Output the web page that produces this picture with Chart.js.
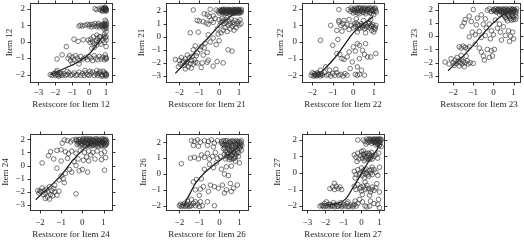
<!DOCTYPE html>
<html><head><meta charset="utf-8">
<script src="https://cdn.jsdelivr.net/npm/chart.js@4"></script>
<style>
html,body{margin:0;padding:0;background:#fff;overflow:hidden;width:524px;height:241px;position:relative}
canvas{position:absolute}
</style>
</head><body>
<script>
// ---------- DATA ----------
const itemNames = ['12','21','22','23','24','26','27'];

const xTicksWide = [-3,-2,-1,0,1];
const xTicksNarrow = [-2,-1,0,1];
const yTicks5 = [-2,-1,0,1,2];
const yTicks6 = [-3,-2,-1,0,1,2];

const item12 = [
 [0.35,2.0],[0.45,1.95],[0.6,2.0],[0.7,1.9],[0.75,2.05],[0.8,1.85],[0.85,1.95],[0.9,2.05],[0.95,1.9],[1.0,2.0],[1.0,1.85],[0.95,2.1],[0.88,1.98],[0.98,1.95],
 [0.92,1.95],[0.97,2.02],[1.02,1.92],[0.83,2.0],[0.78,1.93],
 [-0.6,0.95],[-0.5,1.0],[-0.4,0.95],[-0.25,1.0],[-0.1,1.05],[0,0.95],[0.05,1.05],[0.15,0.9],[0.2,1.05],[0.3,0.95],[0.35,1.1],[0.45,0.9],[0.5,1.0],[0.55,1.1],[0.6,0.9],[0.65,1.0],[0.75,1.05],[0.8,0.9],[0.85,1.0],[0.9,1.1],[0.95,0.95],[1.0,1.0],[1.0,1.2],[1.0,0.8],[0.95,1.3],[0.9,0.75],[1.0,0.6],[0.45,0.4],[0.6,0.3],[0.9,0.45],[1.0,0.3],
 [0.93,1.03],[0.98,0.9],[1.02,1.08],[0.88,0.95],[0.72,0.97],
 [-1.35,-0.3],[-0.9,0.15],[-0.65,0.02],[-0.35,0.12],[-0.05,0.1],[0.05,-0.05],[0.1,0.15],[0.2,0.0],[0.25,0.3],[0.3,-0.1],[0.4,0.05],[0.45,-0.2],[0.5,0.2],[0.6,0.0],[0.65,0.3],[0.7,-0.15],[0.8,0.1],[0.85,0.3],[0.9,-0.05],[1.0,0.1],[1.0,-0.3],[0.95,0.25],[0.3,-0.35],[0.15,-0.4],
 [-1.9,-1.05],[-1.6,-0.8],[-1.25,-1.0],[-1.15,-0.85],[-1.1,-1.15],[-1.0,-0.95],[-0.9,-1.1],[-0.8,-0.85],[-0.7,-1.0],[-0.6,-1.15],[-0.5,-0.9],[-0.35,-1.05],[-0.2,-0.95],[-0.1,-1.1],[0,-0.9],[0.1,-1.0],[0.2,-1.15],[0.3,-0.85],[0.4,-1.0],[0.5,-1.1],[0.6,-0.9],[0.7,-1.05],[0.8,-0.95],[0.9,-1.1],[1.0,-1.0],[0.95,-0.8],[-1.0,-1.3],[-0.6,-1.35],[0.97,-0.95],[1.02,-1.05],
 [-2.3,-2.0],[-2.2,-2.05],[-2.1,-1.95],[-2.0,-2.05],[-1.95,-1.85],[-1.9,-2.0],[-1.8,-2.1],[-1.75,-1.9],[-1.7,-2.0],[-1.6,-2.05],[-1.5,-1.95],[-1.4,-2.05],[-1.3,-2.0],[-1.2,-1.9],[-1.1,-2.05],[-1.0,-2.0],[-0.9,-1.9],[-0.8,-2.05],[-0.7,-2.0],[-0.6,-1.85],[-0.5,-2.05],[-0.4,-1.95],[-0.3,-2.05],[-0.2,-1.9],[-0.1,-2.0],[0,-2.05],[0.1,-1.95],[0.2,-1.85],[0.3,-2.05],[0.4,-1.95],[0.5,-2.05],[0.6,-1.9],[0.7,-2.0],[0.8,-2.05],[0.9,-1.9],[1.0,-2.0],[1.0,-2.1],[0.85,-1.8],[0.65,-1.8],[0.45,-1.75],[-1.9,-1.75],[-1.3,-1.8],[-0.25,-1.75],[0.05,-1.8],
 [0.93,-2.02],[0.98,-1.93],[1.02,-2.0],[0.75,-2.1],[0.55,-1.95],[-2.05,-1.93],[-1.85,-2.03],[-1.65,-1.93]
];
const item12Curve = [[-2.3,-2.0],[-1.4,-1.6],[-0.6,-1.2],[0,-0.75],[0.4,-0.25],[0.7,0.15],[0.9,0.35]];

const item21 = [
 [-0.15,2.05],[-0.05,1.95],[0.05,2.05],[0.1,1.9],[0.15,2.0],[0.2,2.1],[0.25,1.95],[0.3,2.0],[0.35,1.9],[0.4,2.05],[0.45,1.95],[0.5,2.0],[0.55,1.9],[0.6,2.05],[0.65,1.95],[0.7,2.0],[0.75,1.9],[0.8,2.05],[0.85,1.95],[0.9,2.0],[0.95,1.9],[1.0,2.05],[1.05,1.95],[1.1,2.0],[1.1,1.85],[0.0,1.8],[0.2,1.8],[0.4,1.8],[0.6,1.8],[0.8,1.8],[1.0,1.8],[0.3,2.1],[0.7,2.1],[0.9,2.1],[0.12,2.0],[0.52,2.05],[0.78,1.97],[0.98,2.0],
 [0.07,1.97],[0.17,2.08],[0.27,1.88],[0.37,2.02],[0.47,2.1],[0.57,1.97],[0.67,1.87],[0.77,2.08],[0.87,1.88],[0.97,2.08],[1.07,1.9],[0.22,1.92],[0.42,1.9],[0.62,1.93],[0.82,1.92],[1.02,1.95],[0.32,1.8],[0.72,1.78],[0.92,1.82],[1.12,2.08],[0.5,1.85],[0.15,1.85],
 [-1.3,2.05],[-0.45,2.1],[-0.6,1.7],[-0.75,1.75],[-0.5,1.55],[-0.3,1.6],[-0.2,1.4],[-1.1,1.25],[-1.0,1.2],[-0.8,1.15],[-0.65,1.05],[-0.55,0.95],[-0.4,1.25],[-0.3,1.1],
 [0,1.3],[0.1,1.1],[0.15,1.4],[0.2,1.2],[0.25,1.0],[0.3,1.3],[0.35,1.1],[0.4,1.45],[0.45,0.9],[0.5,1.2],[0.55,1.0],[0.6,1.35],[0.65,0.8],[0.7,1.1],[0.75,0.95],[0.8,1.25],[0.85,0.7],[0.9,1.0],[0.95,1.15],[1.0,0.9],[1.05,1.3],[1.1,1.0],[0.05,0.9],[0.3,0.7],[0.55,0.6],[0.2,0.5],[-0.1,0.6],[0.4,0.4],[0.75,0.5],[-0.05,0.2],[0.1,0.3],
 [-1.45,0.3],[-1.05,0.35],[-0.55,0.15],[-0.3,-0.1],[-0.7,-0.5],[-0.9,-0.75],[-0.75,-0.85],[-0.95,-1.0],[-1.1,-1.25],[-0.8,-1.4],[-0.55,-1.8],[-0.3,-2.25],[0.2,-2.0],[0.45,-1.0],[0.65,-1.1],[0.0,-0.3],[-0.15,-0.6],[-0.45,-0.4],[-0.6,-1.2],[-1.2,-0.7],[-0.6,-1.95],[-0.85,-2.0],[-0.9,-2.35],[-0.1,-1.9],[-1.3,-1.0],
 [-2.2,-1.75],[-2.0,-1.8],[-1.95,-2.1],[-1.9,-1.6],[-1.85,-2.0],[-1.8,-1.85],[-1.75,-2.2],[-1.7,-1.7],[-1.65,-2.0],[-1.6,-1.9],[-1.55,-2.3],[-1.5,-1.6],[-1.45,-2.05],[-1.4,-1.8],[-1.35,-1.5],[-1.3,-2.1],[-1.25,-1.75],[-1.2,-1.95],[-1.15,-1.45],[-1.7,-2.45],[-1.4,-2.4],[-1.6,-1.4],[-2.05,-2.3],[-1.1,-2.0]
];
const item21Curve = [[-2.2,-2.8],[-1.5,-1.7],[-1.0,-0.8],[-0.5,0.0],[0,0.85],[0.5,1.5],[1.1,2.0]];

const item22 = [
 [-0.25,1.95],[-0.15,1.85],[-0.1,2.05],[0,1.9],[0.05,2.0],[0.1,1.8],[0.15,2.05],[0.2,1.9],[0.25,2.0],[0.3,1.85],[0.35,2.05],[0.4,1.95],[0.45,1.8],[0.5,2.0],[0.55,1.9],[0.6,2.05],[0.65,1.85],[0.7,2.0],[0.75,1.95],[0.8,1.8],[0.85,2.05],[0.9,1.9],[0.95,2.0],[1.0,1.85],[1.05,2.0],[1.1,1.9],[0.0,1.75],[0.3,1.7],[0.6,1.7],[0.9,1.7],[1.0,1.65],
 [-0.05,1.95],[0.07,1.88],[0.17,1.97],[0.27,2.05],[0.37,1.88],[0.47,2.05],[0.57,1.97],[0.67,1.95],[0.77,2.05],[0.87,1.9],[0.97,1.95],[1.07,2.05],[0.22,1.75],[0.52,1.78],[0.82,1.75],[1.12,1.8],
 [-0.7,1.95],[-1.1,1.0],[-0.7,1.3],
 [-0.7,1.2],[-0.6,1.0],[-0.5,1.1],[-0.4,0.9],[-0.3,1.05],[-0.2,0.75],[-0.1,1.0],[0,0.85],[0.05,1.1],[0.1,0.95],[0.2,1.05],[0.25,0.8],[0.3,1.0],[0.4,1.1],[0.45,0.9],[0.5,1.0],[0.55,0.8],[0.6,1.05],[0.7,0.95],[0.75,1.1],[0.8,0.85],[0.85,1.0],[0.9,0.7],[0.95,1.05],[1.0,0.9],[1.05,0.75],[1.1,1.0],[-0.55,0.65],[-0.8,0.7],[0.2,0.6],[0.6,0.55],[1.0,0.6],[-0.45,1.3],[-0.2,1.35],[0.15,1.4],[0.5,1.3],[0.85,1.35],
 [0.35,0.85],[0.65,0.9],[0.9,0.95],[1.08,0.85],[0.15,1.15],[0.45,1.0],[0.8,1.15],
 [-1.6,0.1],[-0.75,0.15],[-1.0,-0.2],[-0.8,-0.7],[-0.65,-0.75],[-0.55,-1.0],[-0.45,-1.05],[-0.3,-0.9],[-0.2,-0.6],[0,-0.3],[0.1,-0.55],[0.2,-0.1],[0.3,-0.2],[0.45,-0.5],[0.55,-0.75],[0.6,-0.1],[0.3,-1.0],[0.2,-1.5],[0.4,-1.7],[0.55,-2.0],[0.7,-0.9],[0.85,-0.9],[1.1,-0.7],[-0.05,-1.2],[-0.15,-1.6],[0.1,-1.95],
 [-2.05,-2.0],[-2.0,-1.85],[-1.95,-2.05],[-1.9,-1.9],[-1.85,-2.0],[-1.8,-2.05],[-1.75,-1.85],[-1.7,-2.0],[-1.65,-1.95],[-1.6,-2.05],[-1.55,-1.9],[-1.5,-2.0],[-1.4,-1.85],[-1.3,-2.0],[-1.2,-1.95],[-1.1,-2.05],[-1.0,-1.9],[-0.9,-2.0],[-0.8,-1.85],[-0.7,-2.0],[-0.6,-1.95],[-0.5,-2.05],[-0.4,-1.9],[-0.3,-2.0],[-1.6,-1.7],[-1.15,-1.7],[-0.85,-1.65],[-1.35,-1.5],[0.2,-2.0],[0.3,-1.95],
 [-1.88,-2.0],[-1.72,-1.92],[-1.58,-1.95],[-1.78,-1.95]
];
const item22Curve = [[-1.55,-1.8],[-1.0,-1.1],[-0.5,-0.3],[0,0.55],[0.5,1.1],[0.95,1.5]];

const item23 = [
 [-0.3,1.95],[-0.2,2.05],[-0.1,1.85],[0,2.0],[0.05,1.9],[0.1,2.05],[0.15,1.8],[0.2,1.95],[0.25,2.05],[0.3,1.85],[0.35,2.0],[0.4,1.9],[0.45,2.05],[0.5,1.8],[0.55,1.95],[0.6,2.05],[0.65,1.85],[0.7,2.0],[0.75,1.9],[0.8,2.05],[0.85,1.8],[0.9,1.95],[0.95,2.05],[1.0,1.85],[1.05,2.0],[1.1,1.9],[1.15,2.05],[0.3,1.65],[0.5,1.6],[0.7,1.65],[0.9,1.6],[1.1,1.65],[0.6,1.4],[0.8,1.45],[1.0,1.4],[1.1,1.25],[0.9,1.2],[0.7,1.15],
 [0.02,1.95],[0.12,1.88],[0.22,2.0],[0.32,1.95],[0.42,1.85],[0.52,2.0],[0.62,1.9],[0.72,1.95],[0.82,1.9],[0.92,2.0],[1.02,1.95],[1.12,1.8],[0.4,1.75],[0.6,1.75],[0.8,1.8],[1.0,1.75],[0.55,1.5],[0.75,1.55],[0.95,1.5],[1.12,1.45],[0.85,1.3],[1.0,1.25],[0.65,1.3],
 [-1.0,2.0],[-1.2,1.5],[-1.4,1.25],[-1.55,0.75],[-1.45,1.0],[-1.1,1.1],[-0.85,0.85],[-0.7,0.35],[-0.5,0.9],[-0.4,1.3],[-0.6,1.6],[-0.8,1.35],[-0.35,0.6],[-0.2,0.9],[-0.1,0.4],[0,0.1],[-0.9,0.1],[-1.05,0.3],[-1.2,-0.05],[-0.6,-0.1],[-0.4,0.05],[0.2,0.6],[0.35,0.3],[0.5,0.7],[0.6,0.05],[0.75,0.4],[0.85,0.0],[0.95,0.3],[1.0,-0.2],[0.8,-0.4],[0.4,-0.3],[0.3,0.9],[0.1,1.2],[-0.15,-0.2],
 [-1.7,-0.8],[-1.6,-0.9],[-1.5,-0.75],[-1.4,-0.85],[-1.3,-0.95],[-1.2,-0.8],[-0.9,-0.6],[-0.7,-0.9],[-0.6,-1.2],[-0.5,-1.5],[-0.45,-1.8],[-0.3,-1.0],[-0.1,-1.1],[0.05,-1.0],[-0.2,-1.6],[-0.05,-1.5],
 [-2.4,-1.95],[-2.1,-1.7],[-2.0,-2.0],[-1.95,-2.2],[-1.9,-1.8],[-1.85,-2.05],[-1.8,-1.6],[-1.75,-1.9],[-1.7,-2.25],[-1.65,-2.0],[-1.6,-1.75],[-1.55,-2.1],[-1.5,-1.9],[-1.45,-2.3],[-1.4,-2.0],[-1.3,-1.85],[-1.25,-2.1],[-1.15,-2.0],[-1.0,-2.05],[-1.6,-1.45],[-1.35,-1.5],[-2.2,-2.1]
];
const item23Curve = [[-2.25,-2.6],[-1.5,-1.5],[-1.0,-0.7],[-0.5,0.2],[0,1.0],[0.5,1.6],[1.1,2.0]];

const item24 = [
 [-0.3,2.0],[-0.2,1.85],[-0.1,2.0],[0,1.9],[0.05,2.05],[0.1,1.75],[0.15,1.95],[0.2,2.05],[0.25,1.8],[0.3,1.95],[0.35,2.05],[0.4,1.7],[0.45,1.9],[0.5,2.0],[0.55,1.8],[0.6,1.95],[0.65,2.05],[0.7,1.75],[0.75,1.9],[0.8,2.0],[0.85,1.8],[0.9,1.95],[0.95,2.05],[1.0,1.75],[1.05,1.9],[1.1,2.0],[1.15,1.85],
 [-0.25,1.6],[-0.05,1.7],[0.1,1.55],[0.3,1.6],[0.5,1.55],[0.7,1.6],[0.9,1.55],[1.1,1.6],[0.0,1.55],[0.2,1.7],[0.4,1.85],[0.6,1.65],[0.8,1.7],[1.0,1.65],[0.15,1.45],[0.45,1.5],[0.75,1.45],[1.05,1.5],[-0.15,1.75],[0.35,1.75],[0.65,1.85],[0.95,1.85],[1.12,1.75],
 [-0.28,1.9],[-0.18,1.98],[-0.08,1.82],[0.02,1.98],[0.12,1.88],[0.22,1.95],[0.32,1.85],[0.42,1.98],[0.52,1.9],[0.62,1.8],[0.72,1.98],[0.82,1.88],[0.92,1.8],[1.02,1.98],[1.12,1.92],[-0.2,1.7],[0.0,1.65],[0.25,1.6],[0.45,1.68],[0.55,1.58],[0.72,1.68],[0.85,1.6],[0.97,1.7],[1.08,1.55],[-0.1,1.55],[0.35,1.5],[0.65,1.5],[0.92,1.48],[1.15,1.65],[0.08,1.82],
 [-0.85,1.95],[-0.7,1.9],[-0.55,1.8],[-0.95,1.7],[-0.45,1.95],
 [-1.5,1.05],[-1.6,0.75],[-1.2,1.15],[-1.0,1.2],[-0.8,1.05],[-0.65,0.9],[-0.5,1.1],[-0.3,0.95],[-0.1,1.15],[0.1,1.0],[0.3,1.1],[0.5,1.0],[0.7,1.1],[0.9,0.9],[1.05,1.05],[1.1,0.6],[1.05,-0.35],
 [-1.35,0.5],[-1.0,0.35],[-0.7,0.55],[-0.4,0.3],[-0.2,0.5],[0.05,0.4],[0.3,0.35],[0.6,0.5],[0.9,0.45],[0.4,0.8],[0.2,0.65],[-1.9,0.2],
 [-1.2,-0.2],[-1.0,-0.8],[-0.9,-1.0],[-0.8,-0.6],[-0.6,-0.3],[-0.5,-0.5],[-0.3,0.0],[-0.15,-0.4],[0.0,-0.3],[0.25,-0.5],[-1.1,-1.1],[-0.85,-1.3],[-1.3,-1.5],[-0.3,-2.15],
 [-2.1,-1.9],[-2.05,-2.1],[-2.0,-1.95],[-1.95,-2.0],[-1.9,-1.7],[-1.85,-2.2],[-1.8,-1.9],[-1.75,-2.1],[-1.7,-1.8],[-1.65,-2.4],[-1.6,-2.0],[-1.55,-1.6],[-1.5,-2.2],[-1.45,-1.9],[-1.4,-2.3],[-1.35,-1.75],[-1.3,-2.0],[-1.2,-2.25],[-1.1,-1.95],[-1.55,-2.55],[-1.75,-2.5]
];
const item24Curve = [[-2.2,-2.6],[-1.5,-1.55],[-1.0,-0.75],[-0.5,0.3],[0,1.15],[0.3,1.55],[0.6,1.75],[1.1,1.8]];

const item26 = [
 [0.1,2.05],[0.15,1.9],[0.2,2.1],[0.25,1.8],[0.3,2.0],[0.35,1.85],[0.4,2.1],[0.45,1.95],[0.5,1.75],[0.55,2.05],[0.6,1.9],[0.65,2.1],[0.7,1.8],[0.75,2.0],[0.8,1.85],[0.85,2.1],[0.9,1.95],[0.95,1.75],[1.0,2.05],[1.05,1.9],[1.1,2.1],[1.12,1.8],[0.2,1.6],[0.4,1.65],[0.6,1.55],[0.8,1.65],[1.0,1.6],[1.1,1.5],[0.3,1.45],[0.5,1.5],[0.7,1.45],[0.9,1.4],
 [0.12,1.95],[0.22,1.85],[0.32,2.1],[0.42,1.8],[0.52,2.0],[0.62,1.75],[0.72,2.05],[0.82,1.95],[0.92,2.05],[1.02,1.8],[1.08,1.98],[0.27,1.65],[0.47,1.6],[0.67,1.65],[0.87,1.55],[1.05,1.7],[0.37,1.35],[0.57,1.4],[0.77,1.3],[0.97,1.35],[0.4,1.2],[0.6,1.15],[0.8,1.1],[0.5,1.05],[0.7,0.95],
 [0.25,1.25],[0.35,1.1],[0.45,1.3],[0.55,1.05],[0.65,1.2],[0.75,1.0],[0.85,1.25],[0.95,1.1],[0.3,0.95],[0.5,0.9],[0.7,1.35],[0.6,0.95],
 [-1.4,2.1],[-1.25,2.05],[-1.1,2.15],[-0.95,2.0],[-0.75,2.1],[-0.55,2.05],[-0.4,2.15],[-0.25,1.95],[-0.1,2.1],[-1.3,1.8],[-1.05,1.75],[-0.6,1.8],[-0.3,1.7],
 [-1.9,0.65],[-1.45,1.0],[-1.25,1.05],[-1.05,0.95],[-0.9,1.2],[-0.75,1.05],[-0.6,1.3],[-0.5,0.95],[-0.35,1.1],[-0.2,1.35],[-0.1,1.0],[-0.5,0.6],[-0.3,0.4],[-0.75,0.3],[-0.15,0.7],[0.05,1.1],[0.1,0.3],[0.35,0.45],[0.6,0.5],[0.8,0.8],[1.0,0.7],[0.25,0.0],[0.45,-0.1],[0.55,-0.6],[0.7,-0.9],[0.9,-0.7],[0.35,-1.0],[0.15,-0.7],[-0.05,-0.9],[-0.25,-0.8],[-0.45,-0.7],[-0.8,-0.8],[-0.95,-0.95],[-1.2,-1.0],[-1.0,-1.35],[-0.55,-1.1],[0.25,-1.2],[0.6,-1.1],[-0.25,-2.0],[-0.6,-1.75],[-0.85,-2.0],[-1.15,-0.35],[-1.3,-0.5],[-0.9,-0.3],
 [-2.0,-2.0],[-1.95,-1.9],[-1.9,-2.05],[-1.85,-1.95],[-1.8,-2.0],[-1.75,-1.85],[-1.7,-2.05],[-1.65,-1.95],[-1.6,-2.0],[-1.55,-1.9],[-1.5,-2.05],[-1.45,-1.95],[-1.4,-2.0],[-1.3,-1.85],[-1.2,-2.0],[-1.1,-1.9],[-1.0,-2.05],[-1.6,-1.7],[-1.4,-1.6],[-1.2,-1.75],[-0.95,-1.75]
];
const item26Curve = [[-1.8,-2.0],[-1.5,-1.3],[-1.2,-0.6],[-0.8,0.0],[-0.3,0.55],[0.2,1.0],[0.6,1.35],[1.05,1.85]];

const item27 = [
 [-0.2,2.0],[0.1,2.0],[0.2,1.9],[0.3,2.05],[0.35,1.85],[0.4,2.0],[0.45,1.9],[0.5,2.05],[0.55,1.8],[0.6,1.95],[0.65,2.05],[0.7,1.85],[0.75,2.0],[0.8,1.9],[0.85,2.05],[0.9,1.8],[0.95,1.95],[1.0,2.05],[1.05,1.85],[1.1,2.0],[1.0,1.7],[0.8,1.7],[1.1,1.6],[0.25,1.75],
 [0.62,2.0],[0.67,1.9],[0.72,2.05],[0.77,1.85],[0.82,2.0],[0.87,1.95],[0.92,2.05],[0.97,1.85],[1.02,1.95],[1.07,2.05],[0.52,1.95],[0.42,2.05],[0.88,1.75],[0.98,1.65],
 [-0.4,1.1],[-0.3,0.95],[-0.2,1.2],[-0.15,0.85],[-0.05,1.05],[0,1.3],[0.05,0.9],[0.1,1.1],[0.15,0.75],[0.2,1.0],[0.25,1.2],[0.3,0.9],[0.35,1.05],[0.4,0.8],[0.45,1.15],[0.5,0.95],[0.55,1.25],[0.6,0.85],[0.7,1.0],[0.8,1.1],[0.9,0.9],[0.95,1.2],[-0.25,0.7],[0.1,1.35],
 [0.12,1.15],[0.22,0.85],[0.38,1.2],[0.48,0.85],[0.58,1.05],
 [-0.4,0.1],[-0.3,-0.1],[-0.2,0.2],[-0.1,0.0],[0,0.3],[0.05,-0.15],[0.1,0.1],[0.2,-0.05],[0.25,0.25],[0.3,0.0],[0.4,-0.2],[0.45,0.15],[0.5,0.0],[0.6,-0.1],[0.7,0.2],[0.8,0.05],[0.9,-0.15],[1.0,0.35],[0.15,-0.3],[-0.35,-0.3],[0.6,0.35],
 [-0.12,-0.1],[0.15,0.2],[0.35,-0.1],[0.55,0.2],
 [-1.75,-0.95],[-1.6,-0.85],[-1.5,-1.0],[-1.4,-0.8],[-1.3,-0.95],[-1.2,-0.85],[-1.1,-1.0],[-1.5,-0.63],
 [-0.4,-0.8],[-0.3,-1.0],[-0.2,-0.7],[-0.1,-0.95],[0,-1.1],[0.1,-0.8],[0.2,-1.0],[0.3,-0.75],[0.4,-0.95],[0.5,-1.15],[0.6,-0.85],[0.7,-1.05],[0.8,-0.9],[1.0,-1.15],[0.05,-1.3],[0.45,-1.35],[0.85,-0.65],[0.2,-0.55],
 [0.25,-0.9],[0.55,-1.0],[-0.05,-0.85],
 [-2.3,-2.0],[-2.2,-1.95],[-2.1,-2.05],[-2.05,-1.85],[-2.0,-2.0],[-1.9,-1.95],[-1.85,-2.05],[-1.75,-1.9],[-1.7,-2.0],[-1.6,-1.95],[-1.5,-2.05],[-1.4,-1.9],[-1.3,-2.0],[-1.2,-1.95],[-1.1,-2.05],[-1.0,-1.9],[-0.9,-2.0],[-0.8,-1.85],[-0.7,-2.0],[-0.6,-1.95],[-0.5,-2.05],[-0.4,-1.9],[-0.3,-2.0],[-0.2,-1.85],[-1.95,-1.75],[-1.55,-1.8],[-1.15,-1.8],[-0.75,-1.75],[-0.35,-1.7],[-0.1,-1.6],[0.05,-1.75],[0.2,-2.0],[0.3,-2.05],[0.5,-1.7],[0.7,-1.85],[0.9,-1.9],[0.95,-1.6],[1.0,-2.1],[0.45,-2.0],
 [-1.62,-2.0],[-1.35,-2.02],[-1.05,-1.98],[-0.75,-2.05],[-0.45,-1.98],[-2.15,-1.98],[-1.82,-1.9]
];
const item27Curve = [[-1.9,-1.95],[-1.4,-1.85],[-0.9,-1.6],[-0.45,-0.85],[0.05,0.05],[0.45,0.8],[0.85,1.4],[1.05,1.8]];

// axis limits
const xLimits = [[-3.5,1.35],[-2.67,1.45],[-2.5,1.5],[-2.75,1.32],[-2.47,1.4],[-2.67,1.43],[-3.3,1.25]];
const yLimits = [[-2.45,2.35],[-3.46,2.58],[-2.41,2.35],[-3.45,2.49],[-3.38,2.4],[-2.27,2.52],[-2.24,2.36]];

// ---------- LAYOUT ----------
const points = [item12,item21,item22,item23,item24,item26,item27];
const curves = [item12Curve,item21Curve,item22Curve,item23Curve,item24Curve,item26Curve,item27Curve];
const xTickSets = [xTicksWide,xTicksNarrow,xTicksNarrow,xTicksNarrow,xTicksNarrow,xTicksNarrow,xTicksWide];
const yTickSets = [yTicks5,yTicks6,yTicks5,yTicks6,yTicks6,yTicks5,yTicks5];
const boxLeft = [30,166,302,438];
const BOX_W = 82;
// bottom: chart-area bottom relative to the canvas top
const rows = [
  {top:0, h:120, pt:3, bottom:82, tickPad:5.5, titlePb:9.5},
  {top:120, h:121, pt:14, bottom:90, tickPad:7, titlePb:0.8}
];
const yLabOff = [20,26,21,23,25,22.5,25];

const FONT = 'Liberation Serif, Times New Roman, serif';
const INK = '#262626';

const fmt = v => v < 0 ? '\u2212' + Math.abs(v) : String(v);

const framePlugin = {
  id: 'frame',
  afterDatasetsDraw(chart) {
    const {ctx, chartArea: a} = chart;
    const xs = chart.scales.x, ys = chart.scales.y;
    const L = Math.round(a.left) + 0.5, R = Math.round(a.right) + 0.5;
    const T = Math.round(a.top) + 0.5, B = Math.round(a.bottom) + 0.5;
    ctx.save();
    ctx.strokeStyle = '#333';
    ctx.lineWidth = 1;
    ctx.strokeRect(L, T, R - L, B - T);
    ctx.beginPath();
    xs.ticks.forEach(t => {
      const px = Math.round(xs.getPixelForValue(t.value)) + 0.5;
      ctx.moveTo(px, B); ctx.lineTo(px, B + 3);
      ctx.moveTo(px, T); ctx.lineTo(px, T - 3);
    });
    ys.ticks.forEach(t => {
      const py = Math.round(ys.getPixelForValue(t.value)) + 0.5;
      ctx.moveTo(L, py); ctx.lineTo(L - 3, py);
      ctx.moveTo(R, py); ctx.lineTo(R + 3, py);
    });
    ctx.stroke();
    ctx.restore();
  }
};

points.forEach((pts, i) => {
  const col = i < 4 ? i : i - 4;
  const row = rows[i < 4 ? 0 : 1];
  const cv = document.createElement('canvas');
  const left = boxLeft[col] - 30;
  const w = 30 + BOX_W + 4;
  cv.width = w; cv.height = row.h;
  cv.style.left = left + 'px';
  cv.style.top = row.top + 'px';
  cv.style.width = w + 'px'; cv.style.height = row.h + 'px';
  document.body.appendChild(cv);
  const xT = xTickSets[i], yT = yTickSets[i];
  const name = itemNames[i];
  new Chart(cv, {
    type: 'scatter',
    data: {
      datasets: [
        {
          data: pts.map(p => ({x: p[0], y: p[1]})),
          pointRadius: 2.3,
          pointBorderWidth: 0.75,
          borderColor: 'rgba(45,45,45,0.85)',
          backgroundColor: 'rgba(0,0,0,0)',
          pointStyle: 'circle',
          clip: 2
        },
        {
          type: 'line',
          data: curves[i].map(p => ({x: p[0], y: p[1]})),
          borderColor: '#111',
          borderWidth: 1.2,
          pointRadius: 0,
          fill: false,
          cubicInterpolationMode: 'monotone'
        }
      ]
    },
    options: {
      responsive: false,
      animation: false,
      devicePixelRatio: 1,
      layout: {autoPadding: false, padding: {top: row.pt, right: 4, left: 0, bottom: 0}},
      plugins: {legend: {display: false}, tooltip: {enabled: false}},
      events: [],
      scales: {
        x: {
          type: 'linear',
          min: xLimits[i][0], max: xLimits[i][1],
          afterBuildTicks: s => { s.ticks = xT.map(v => ({value: v})); },
          afterFit: s => { s.height = row.h - row.bottom; s.paddingLeft = 0; s.paddingRight = 0; },
          grid: {display: false, drawTicks: false},
          border: {display: false},
          ticks: {padding: row.tickPad, autoSkip: false, maxRotation: 0, color: INK, font: {family: FONT, size: 9}, callback: v => fmt(v)},
          title: {display: true, text: 'Restscore for Item ' + name, color: INK, font: {family: FONT, size: 9}, padding: {top: 0, bottom: row.titlePb}}
        },
        y: {
          type: 'linear',
          min: yLimits[i][0], max: yLimits[i][1],
          afterBuildTicks: s => { s.ticks = yT.map(v => ({value: v})); },
          afterFit: s => { s.width = 30; s.paddingTop = 0; s.paddingBottom = 0; },
          grid: {display: false, drawTicks: false},
          border: {display: false},
          ticks: {padding: 5, autoSkip: false, color: INK, font: {family: FONT, size: 9}, callback: v => fmt(v)},
          title: {display: true, text: 'Item ' + name, color: INK, font: {family: FONT, size: 9}, padding: {top: Math.max(0, 30 - yLabOff[i] - 5.4), bottom: 0}}
        }
      }
    },
    plugins: [framePlugin]
  });
});
</script>
</body></html>
